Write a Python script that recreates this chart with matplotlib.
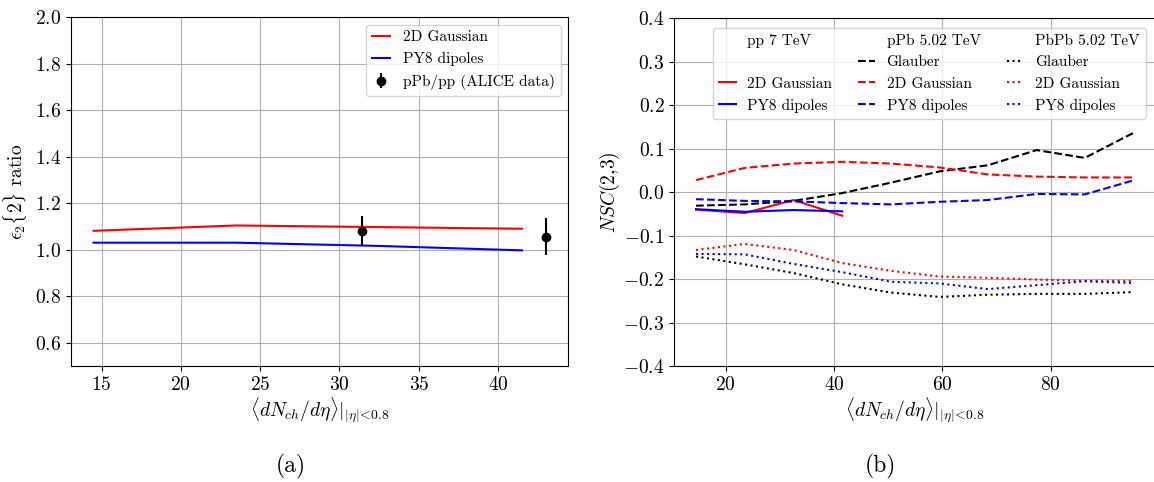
import matplotlib
matplotlib.use("Agg")
import matplotlib.pyplot as plt

plt.rcParams["font.family"] = "serif"
plt.rcParams["font.serif"] = ["cmr10"]
plt.rcParams["mathtext.fontset"] = "cm"
plt.rcParams["axes.formatter.use_mathtext"] = True

# (a) eps2{2} ratio pPb/pp
mult_a = [14.5, 23.5, 32.5, 41.5]
ratio_gauss = [1.081, 1.104, 1.097, 1.090]
ratio_py8 = [1.030, 1.030, 1.016, 0.997]
alice_x = [31.4, 43.0]
alice_y = [1.080, 1.056]
alice_err = [0.065, 0.080]

# (b) NSC(2,3)
mult_pp = [14.5, 23.5, 32.5, 41.5]
pp_gauss = [-0.040, -0.048, -0.018, -0.054]
pp_py8 = [-0.039, -0.045, -0.041, -0.044]

mult_AA = [14.5, 23.5, 32.5, 41.5, 50.5, 59.5, 68.4, 77.4, 86.3, 95.2]
ppb_glauber = [-0.031, -0.028, -0.020, -0.002, 0.022, 0.048, 0.062, 0.097, 0.079, 0.136]
ppb_gauss = [0.028, 0.056, 0.066, 0.070, 0.066, 0.057, 0.041, 0.036, 0.034, 0.034]
ppb_py8 = [-0.016, -0.020, -0.021, -0.025, -0.028, -0.022, -0.018, -0.004, -0.005, 0.027]
pbpb_glauber = [-0.148, -0.166, -0.186, -0.212, -0.231, -0.241, -0.236, -0.234, -0.234, -0.230]
pbpb_gauss = [-0.133, -0.119, -0.133, -0.163, -0.181, -0.194, -0.197, -0.201, -0.204, -0.204]
pbpb_py8 = [-0.142, -0.143, -0.165, -0.184, -0.206, -0.210, -0.223, -0.214, -0.205, -0.209]

xlabel = r"$\langle dN_{ch}/d\eta\rangle|_{|\eta|\!<\!0.8}$"

fig = plt.figure(figsize=(11.54, 4.82), dpi=100)
ax1 = fig.add_axes([0.0615, 0.2407, 0.431, 0.724])
ax2 = fig.add_axes([0.5842, 0.2407, 0.4165, 0.721])

# panel (a)
ax1.plot(mult_a, ratio_gauss, color="red", lw=1.5, label="2D Gaussian")
ax1.plot(mult_a, ratio_py8, color="blue", lw=1.5, label="PY8 dipoles")
ax1.errorbar(alice_x, alice_y, yerr=alice_err, fmt="o", color="black",
             markersize=6, elinewidth=1.5, label="pPb/pp (ALICE data)")
ax1.set_ylim(0.5, 2.0)
ax1.grid(True, color="#b0b0b0", lw=0.8)
ax1.set_xlabel(xlabel, fontsize=14, labelpad=1)
ax1.set_ylabel(r"$\epsilon_2\{2\}$ ratio", fontsize=14)
ax1.tick_params(labelsize=14)
ax1.legend(loc="upper right", fontsize=11, handlelength=1.2)

# panel (b)
blank = dict(color="white", alpha=0)
h_pp_t, = ax2.plot([], [], **blank, label="pp 7 TeV")
h_pp_b, = ax2.plot([], [], **blank, label=" ")
h_pp_g, = ax2.plot(mult_pp, pp_gauss, color="red", ls="-", lw=1.5, label="2D Gaussian")
h_pp_p, = ax2.plot(mult_pp, pp_py8, color="blue", ls="-", lw=1.5, label="PY8 dipoles")

h_pa_t, = ax2.plot([], [], **blank, label="pPb 5.02 TeV")
h_pa_gl, = ax2.plot(mult_AA, ppb_glauber, color="black", ls="--", lw=1.5, label="Glauber")
h_pa_g, = ax2.plot(mult_AA, ppb_gauss, color="red", ls="--", lw=1.5, label="2D Gaussian")
h_pa_p, = ax2.plot(mult_AA, ppb_py8, color="blue", ls="--", lw=1.5, label="PY8 dipoles")

h_aa_t, = ax2.plot([], [], **blank, label="PbPb 5.02 TeV")
h_aa_gl, = ax2.plot(mult_AA, pbpb_glauber, color="black", ls=":", lw=1.5, label="Glauber")
h_aa_g, = ax2.plot(mult_AA, pbpb_gauss, color="red", ls=":", lw=1.5, label="2D Gaussian")
h_aa_p, = ax2.plot(mult_AA, pbpb_py8, color="blue", ls=":", lw=1.5, label="PY8 dipoles")

ax2.set_ylim(-0.4, 0.4)
ax2.grid(True, color="#b0b0b0", lw=0.8)
ax2.set_xlabel(xlabel, fontsize=14, labelpad=1)
ax2.set_ylabel(r"$NSC$(2,3)", fontsize=14, labelpad=1)
ax2.tick_params(labelsize=14)
handles = [h_pp_t, h_pp_b, h_pp_g, h_pp_p,
           h_pa_t, h_pa_gl, h_pa_g, h_pa_p,
           h_aa_t, h_aa_gl, h_aa_g, h_aa_p]
ax2.legend(handles=handles, labels=[h.get_label() for h in handles],
           ncol=3, loc="upper right", fontsize=11, borderaxespad=0.6,
           handlelength=1.1, handletextpad=0.75, columnspacing=1.7)

fig.text(0.252, 0.02, "(a)", fontsize=17, ha="center")
fig.text(0.763, 0.02, "(b)", fontsize=17, ha="center")

fig.savefig("out.png", dpi=100)
